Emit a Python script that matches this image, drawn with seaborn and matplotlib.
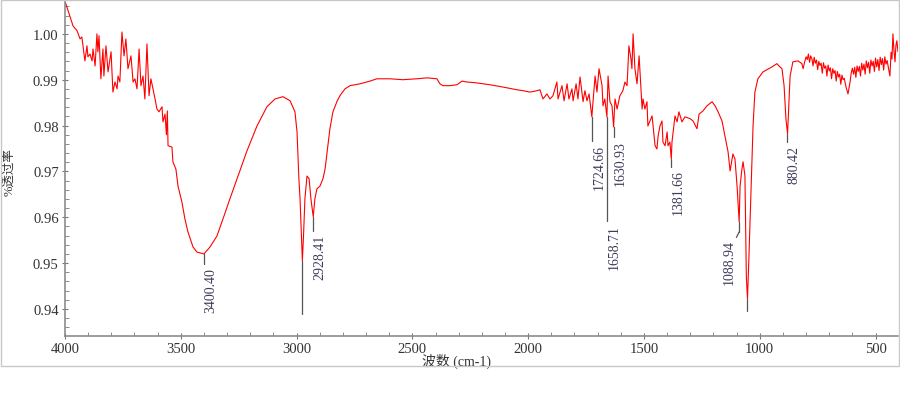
import pandas as pd
import matplotlib
matplotlib.use("Agg")
import matplotlib.pyplot as plt
import matplotlib.patches as patches
from matplotlib.ticker import MultipleLocator, FormatStrFormatter
import seaborn as sns

# IR spectrum (wavenumber cm-1, transmittance)
wavenumber = [
    4000, 3996, 3965, 3948, 3935, 3927, 3914, 3905, 3901, 3892, 3883, 3879, 3870, 3862, 3858, 3853,
    3845, 3836, 3832, 3823, 3814, 3801, 3793, 3784, 3775, 3771, 3763, 3754, 3745, 3737, 3728, 3715,
    3706, 3698, 3689, 3680, 3672, 3663, 3655, 3646, 3637, 3629, 3620, 3611, 3603, 3594, 3581, 3577,
    3568, 3562, 3558, 3555, 3538, 3534, 3521, 3512, 3495, 3482, 3469, 3447, 3430, 3400, 3374, 3344,
    3318, 3288, 3253, 3214, 3171, 3128, 3093, 3059, 3028, 3007, 2998, 2990, 2985, 2980, 2975, 2970,
    2964, 2955, 2946, 2938, 2928, 2921, 2912, 2899, 2886, 2877, 2856, 2843, 2826, 2813, 2791, 2769,
    2726, 2683, 2653, 2597, 2541, 2480, 2437, 2394, 2381, 2368, 2338, 2307, 2286, 2264, 2221, 2165,
    2109, 2048, 2022, 1992, 1962, 1949, 1936, 1919, 1906, 1893, 1876, 1871, 1854, 1845, 1832, 1824,
    1811, 1806, 1793, 1785, 1776, 1763, 1755, 1746, 1737, 1725, 1720, 1711, 1703, 1694, 1681, 1677,
    1669, 1660, 1655, 1647, 1638, 1631, 1625, 1616, 1604, 1591, 1582, 1573, 1565, 1556, 1552, 1547,
    1539, 1530, 1521, 1517, 1508, 1504, 1496, 1487, 1483, 1465, 1452, 1444, 1439, 1431, 1422, 1418,
    1409, 1400, 1396, 1388, 1382, 1379, 1366, 1357, 1349, 1336, 1323, 1301, 1288, 1271, 1262, 1245,
    1228, 1206, 1193, 1180, 1163, 1150, 1137, 1128, 1116, 1107, 1098, 1089, 1085, 1077, 1072, 1064,
    1058, 1053, 1047, 1038, 1029, 1021, 1008, 986, 947, 926, 913, 904, 895, 887, 880, 874,
    869, 857, 835, 818, 813, 806, 800, 795, 790, 785, 780, 775, 770, 765, 760, 755,
    750, 745, 740, 735, 730, 725, 720, 715, 710, 705, 700, 695, 690, 685, 680, 675,
    670, 665, 660, 655, 650, 645, 640, 635, 628, 619, 615, 610, 605, 600, 595, 590,
    585, 580, 575, 570, 565, 560, 555, 550, 545, 540, 535, 530, 525, 520, 515, 510,
    505, 500, 495, 490, 485, 480, 475, 470, 465, 460, 455, 450, 446, 438, 433, 429,
    425, 420, 416, 412, 408, 403,
]
transmittance = [
    1.0070, 1.0065, 1.0017, 1.0007, 0.9989, 0.9993, 0.9941, 0.9974, 0.9950, 0.9956, 0.9941, 0.9967, 0.9930, 1.0000, 0.9961, 0.9996,
    0.9902, 0.9967, 0.9908, 0.9974, 0.9917, 0.9961, 0.9873, 0.9895, 0.9880, 0.9908, 0.9895, 1.0004, 0.9952, 0.9989, 0.9924, 0.9952,
    0.9895, 0.9902, 0.9880, 0.9967, 0.9887, 0.9908, 0.9858, 0.9978, 0.9865, 0.9902, 0.9880, 0.9858, 0.9836, 0.9830, 0.9841, 0.9808,
    0.9825, 0.9780, 0.9832, 0.9756, 0.9753, 0.9721, 0.9705, 0.9668, 0.9633, 0.9596, 0.9568, 0.9535, 0.9524, 0.9520, 0.9535, 0.9559,
    0.9596, 0.9640, 0.9690, 0.9745, 0.9799, 0.9841, 0.9858, 0.9863, 0.9854, 0.9830, 0.9786, 0.9684, 0.9640, 0.9570, 0.9505, 0.9560,
    0.9640, 0.9690, 0.9684, 0.9640, 0.9601, 0.9640, 0.9662, 0.9668, 0.9684, 0.9705, 0.9793, 0.9830, 0.9852, 0.9865, 0.9880, 0.9887,
    0.9891, 0.9897, 0.9902, 0.9902, 0.9900, 0.9902, 0.9904, 0.9902, 0.9891, 0.9887, 0.9887, 0.9889, 0.9897, 0.9895, 0.9893, 0.9889,
    0.9884, 0.9878, 0.9876, 0.9873, 0.9876, 0.9878, 0.9858, 0.9869, 0.9858, 0.9865, 0.9895, 0.9858, 0.9887, 0.9854, 0.9891, 0.9858,
    0.9880, 0.9854, 0.9891, 0.9858, 0.9906, 0.9852, 0.9876, 0.9854, 0.9869, 0.9819, 0.9852, 0.9908, 0.9873, 0.9924, 0.9887, 0.9843,
    0.9858, 0.9819, 0.9908, 0.9852, 0.9843, 0.9797, 0.9858, 0.9836, 0.9865, 0.9876, 0.9895, 0.9887, 0.9974, 0.9945, 0.9924, 1.0000,
    0.9924, 0.9891, 0.9952, 0.9917, 0.9836, 0.9858, 0.9836, 0.9852, 0.9799, 0.9821, 0.9756, 0.9749, 0.9777, 0.9799, 0.9810, 0.9764,
    0.9756, 0.9786, 0.9756, 0.9764, 0.9727, 0.9764, 0.9821, 0.9808, 0.9830, 0.9808, 0.9819, 0.9815, 0.9810, 0.9793, 0.9825, 0.9832,
    0.9843, 0.9852, 0.9843, 0.9830, 0.9810, 0.9777, 0.9743, 0.9701, 0.9738, 0.9727, 0.9668, 0.9590, 0.9668, 0.9705, 0.9721, 0.9690,
    0.9472, 0.9422, 0.9509, 0.9655, 0.9799, 0.9873, 0.9902, 0.9917, 0.9928, 0.9935, 0.9928, 0.9924, 0.9887, 0.9815, 0.9782, 0.9852,
    0.9908, 0.9939, 0.9941, 0.9935, 0.9924, 0.9939, 0.9950, 0.9944, 0.9956, 0.9938, 0.9952, 0.9946, 0.9930, 0.9949, 0.9936, 0.9943,
    0.9922, 0.9940, 0.9931, 0.9936, 0.9914, 0.9937, 0.9925, 0.9930, 0.9908, 0.9932, 0.9919, 0.9926, 0.9902, 0.9924, 0.9914, 0.9920,
    0.9897, 0.9918, 0.9906, 0.9912, 0.9890, 0.9910, 0.9900, 0.9903, 0.9885, 0.9869, 0.9880, 0.9895, 0.9915, 0.9925, 0.9912, 0.9927,
    0.9905, 0.9930, 0.9918, 0.9929, 0.9908, 0.9936, 0.9921, 0.9934, 0.9912, 0.9941, 0.9926, 0.9938, 0.9914, 0.9943, 0.9930, 0.9940,
    0.9918, 0.9947, 0.9928, 0.9944, 0.9920, 0.9949, 0.9933, 0.9946, 0.9921, 0.9950, 0.9934, 0.9942, 0.9930, 0.9908, 0.9960, 0.9945,
    1.0000, 0.9960, 0.9939, 0.9975, 0.9985, 0.9961,
]

# labelled peaks: position, trace minimum, end of marker line
peak_wn = [3400.40, 2928.41, 1724.66, 1658.71, 1630.93, 1381.66, 1088.94, 880.42]
peak_top = [0.9520, 0.9601, 0.9819, 0.9819, 0.9797, 0.9727, 0.9590, 0.9782]
peak_end = [0.9498, 0.9570, 0.9766, 0.9592, 0.9775, 0.9710, 0.9568, 0.9764]

# marker lines without a label (deepest bands)
bare_wn = [2975, 1053]
bare_top = [0.9505, 0.9422]
bare_end = [0.9389, 0.9396]

spectrum = pd.DataFrame({"wavenumber": wavenumber, "transmittance": transmittance})

sns.set_style("white")
plt.rcParams["font.family"] = ["Liberation Serif", "Noto Sans CJK SC", "DejaVu Sans"]

fig = plt.figure(figsize=(9, 4.1), dpi=100)
fig.patches.append(patches.Rectangle((0.001, 0.105), 0.998, 0.893, transform=fig.transFigure,
                                     fill=False, edgecolor="#c8c8c8", linewidth=1))
ax = fig.add_axes([0.0722, 0.178, 0.9256, 0.822])

sns.lineplot(data=spectrum, x="wavenumber", y="transmittance", sort=False, estimator=None,
             color="#ff0000", linewidth=0.8, ax=ax)

label_color = "#3c3c5a"
for wn, top, end in zip(peak_wn, peak_top, peak_end):
    ax.plot([wn, wn], [top, end], color="#555555", linewidth=0.9)
    if wn == 1088.94:
        ax.plot([wn, wn + 12], [end, end - 0.0012], color="#555555", linewidth=0.9)
        ax.annotate(f"{wn:.2f}", xy=(wn + 12, end - 0.0012), xytext=(-5, -1),
                    textcoords="offset points", rotation=90, ha="center", va="top",
                    fontsize=10, color=label_color)
    else:
        ax.annotate(f"{wn:.2f}", xy=(wn, end), xytext=(5, -2),
                    textcoords="offset points", rotation=90, ha="center", va="top",
                    fontsize=10, color=label_color)
for wn, top, end in zip(bare_wn, bare_top, bare_end):
    ax.plot([wn, wn], [top, end], color="#555555", linewidth=0.9)

ax.set_xlim(4000, 403)
ax.set_ylim(0.9341, 1.0076)
ax.xaxis.set_major_locator(MultipleLocator(500))
ax.xaxis.set_minor_locator(MultipleLocator(100))
ax.yaxis.set_major_locator(MultipleLocator(0.01))
ax.yaxis.set_minor_locator(MultipleLocator(0.002))
ax.yaxis.set_major_formatter(FormatStrFormatter("%.2f"))
ax.tick_params(axis="both", which="major", direction="inout", length=5, width=0.8,
               color="#777777", labelsize=10.5, labelcolor="#333333", pad=2)
ax.tick_params(axis="both", which="minor", direction="in", length=3, width=0.6, color="#777777")
ax.tick_params(axis="x", which="both", bottom=True)
ax.tick_params(axis="y", which="both", left=True)

for side in ["top", "right"]:
    ax.spines[side].set_visible(False)
for side in ["left", "bottom"]:
    ax.spines[side].set_color("#8c8c8c")
    ax.spines[side].set_linewidth(1.2)

ax.set_xlabel("波数 (cm-1)", fontsize=10, color="#333333")
ax.xaxis.set_label_coords(0.47, -0.05)
ax.set_ylabel("%透过率", fontsize=9, color="#333333")
ax.yaxis.set_label_coords(-0.06, 0.49)

fig.savefig("out.png", dpi=100, facecolor="white")
